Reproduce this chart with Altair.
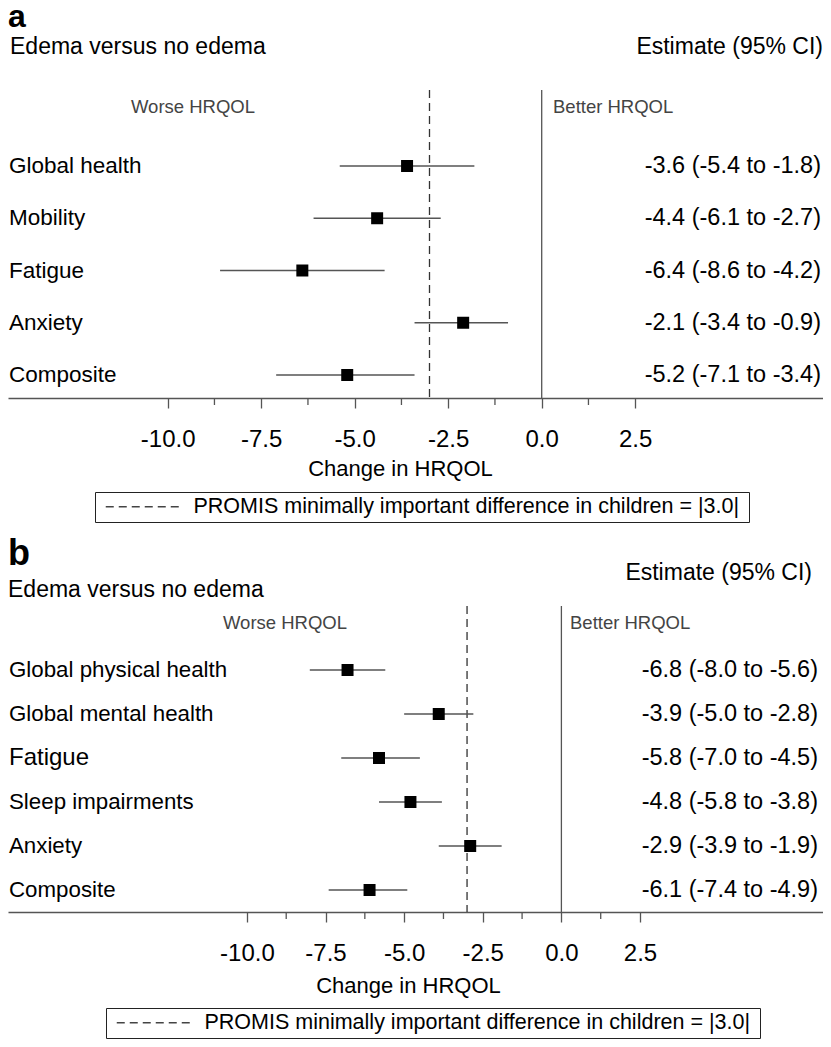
import altair as alt
import pandas as pd

FONT = "Liberation Sans, Arial, Helvetica, sans-serif"

# ---------------- data ----------------
a_outcomes = ["Global health", "Mobility", "Fatigue", "Anxiety", "Composite"]
a_est = [-3.6, -4.4, -6.4, -2.1, -5.2]
a_lo = [-5.4, -6.1, -8.6, -3.4, -7.1]
a_hi = [-1.8, -2.7, -4.2, -0.9, -3.4]
a_text = ["-3.6 (-5.4 to -1.8)", "-4.4 (-6.1 to -2.7)", "-6.4 (-8.6 to -4.2)",
          "-2.1 (-3.4 to -0.9)", "-5.2 (-7.1 to -3.4)"]

b_outcomes = ["Global physical health", "Global mental health", "Fatigue",
              "Sleep impairments", "Anxiety", "Composite"]
b_est = [-6.8, -3.9, -5.8, -4.8, -2.9, -6.1]
b_lo = [-8.0, -5.0, -7.0, -5.8, -3.9, -7.4]
b_hi = [-5.6, -2.8, -4.5, -3.8, -1.9, -4.9]
b_text = ["-6.8 (-8.0  to -5.6)", "-3.9 (-5.0  to -2.8)", "-5.8 (-7.0  to -4.5)",
          "-4.8 (-5.8  to -3.8)", "-2.9 (-3.9  to -1.9)", "-6.1 (-7.4  to -4.9)"]

major_ticks = [-10.0, -7.5, -5.0, -2.5, 0.0, 2.5]
minor_ticks = [-8.75, -6.25, -3.75, -1.25, 1.25]
mid_value = [-3.0]
zero_value = [0.0]
legend_label = ["PROMIS minimally important difference in  children = |3.0|"]
subtitle = "Edema versus no edema"
est_header = "Estimate (95% CI)"
worse_txt = "Worse HRQOL"
better_txt = "Better HRQOL"
x_title = "Change in HRQOL"

W = 815
AXIS_GRAY = "#555555"
LABEL_EXPR = ("datum.value < 0 ? '-' + format(-datum.value, '.1f') "
              ": format(datum.value, '.1f')")


def one(txt):
    return alt.Chart(pd.DataFrame({"t": [txt]}))


def panel(letter, outcomes, est, lo, hi, txt, g):
    H = g["H"]
    n = len(outcomes)
    df = pd.DataFrame({"row": list(range(n)), "outcome": outcomes, "est": est,
                       "lo": lo, "hi": hi, "txt": txt})
    xs = alt.Scale(domain=[-g["zero"] / g["ppu"], (W - g["zero"]) / g["ppu"]],
                   nice=False, zero=False)
    ys = alt.Scale(domain=[-g["row0"] / g["step"], (H - g["row0"]) / g["step"]],
                   nice=False, zero=False, reverse=True)
    xaxis = alt.Axis(values=major_ticks, labelExpr=LABEL_EXPR, grid=False,
                     domainColor=AXIS_GRAY, domainWidth=1.5,
                     tickColor=AXIS_GRAY, tickWidth=1.3, tickSize=10,
                     labelFont=FONT, labelFontSize=24, labelColor="black",
                     labelBaseline="alphabetic", labelPadding=g["lpad"],
                     labelFlush=False, labelOverlap=False,
                     titleFont=FONT, titleFontSize=22, titleFontWeight="normal",
                     titleColor="black", titleX=g["titleX"], titleY=g["titleY"],
                     titleBaseline="alphabetic", titleAlign="center")
    base = alt.Chart(df)
    ci = base.mark_rule(color="#555555", strokeWidth=1.5).encode(
        x=alt.X("lo:Q", scale=xs, axis=xaxis, title=x_title),
        x2="hi:Q",
        y=alt.Y("row:Q", scale=ys, axis=None),
    )
    pts = base.mark_square(size=144, color="black", opacity=1).encode(
        x=alt.X("est:Q", scale=xs), y=alt.Y("row:Q", scale=ys))
    names = base.mark_text(align="left", baseline="middle", font=FONT,
                           color="black").encode(
        x=alt.value(1), y=alt.Y("row:Q", scale=ys), text="outcome:N",
        size=alt.condition(alt.datum.outcome == g["bigName"],
                           alt.value(g["bigFs"]), alt.value(g["fs"])))
    ests = base.mark_text(align="right", baseline="middle", font=FONT,
                          fontSize=g["efs"], color="black").encode(
        x=alt.value(g["estR"]), y=alt.Y("row:Q", scale=ys), text="txt:N")

    minor = alt.Chart(pd.DataFrame({"v": minor_ticks})).mark_rule(
        color=AXIS_GRAY, strokeWidth=1.3).encode(
        x=alt.X("v:Q", scale=xs), y=alt.value(H), y2=alt.value(H + 7))

    zero = alt.Chart(pd.DataFrame({"v": zero_value})).mark_rule(
        color="#555555", strokeWidth=1.3).encode(
        x=alt.X("v:Q", scale=xs), y=alt.value(g["lineTop"]), y2=alt.value(H))
    mid = alt.Chart(pd.DataFrame({"v": mid_value, "lab": legend_label})).mark_rule(
        color="#333333", strokeWidth=1.3).encode(
        x=alt.X("v:Q", scale=xs), y=alt.value(g["lineTop"]), y2=alt.value(H),
        strokeDash=alt.StrokeDash(
            "lab:N", scale=alt.Scale(range=[[8, 5]]),
            legend=alt.Legend(title=None, orient="none", legendX=g["legX"],
                              legendY=g["legY"], strokeColor="#222222", padding=4,
                              labelFont=FONT, labelFontSize=21.5,
                              labelColor="black", labelLimit=0, labelOffset=73,
                              symbolType="M-0.5,0H9", symbolSize=256,
                              symbolStrokeColor="#444444", symbolStrokeWidth=1.3)))

    letter_t = one(letter).mark_text(align="left", baseline="alphabetic", font=FONT,
                                     fontSize=g["letterFs"], fontWeight="bold",
                                     color="black", clip=True).encode(
        x=alt.value(0), y=alt.value(g["letterY"]), text="t:N")
    sub_t = one(subtitle).mark_text(align="left", baseline="middle", font=FONT,
                                    fontSize=23, color="black").encode(
        x=alt.value(g["subX"]), y=alt.value(g["subY"]), text="t:N")
    est_t = one(est_header).mark_text(align="right", baseline="middle", font=FONT,
                                      fontSize=23, color="black").encode(
        x=alt.value(g["estHR"]), y=alt.value(g["estHY"]), text="t:N")
    worse_t = one(worse_txt).mark_text(align="center", baseline="middle", font=FONT,
                                       fontSize=18.5, color="#444444").encode(
        x=alt.value(g["worseX"]), y=alt.value(g["wbY"]), text="t:N")
    better_t = one(better_txt).mark_text(align="left", baseline="middle", font=FONT,
                                         fontSize=18.5, color="#444444").encode(
        x=alt.value(g["betterX"]), y=alt.value(g["wbY"]), text="t:N")

    return alt.layer(mid, zero, minor, ci, pts, names, ests, letter_t, sub_t, est_t,
                     worse_t, better_t).properties(width=W, height=H)


ga = dict(H=390, zero=533.7, ppu=37.4, row0=158, step=52.25, fs=22.5, bigName="",
          bigFs=22.5, efs=23.5, estR=813, lpad=38, titleX=392, titleY=77,
          legX=87, legY=484, lineTop=82, letterFs=32, letterY=19,
          subX=2, subY=39, estHR=815, estHY=39, worseX=185, betterX=545, wbY=99)
gb = dict(H=378, zero=553.4, ppu=31.45, row0=136, step=44, fs=22.3, bigName="Fatigue",
          bigFs=24, efs=23.5, estR=810, lpad=38, titleX=400, titleY=80,
          legX=98, legY=474, lineTop=72, letterFs=36, letterY=31,
          subX=0, subY=56, estHR=804, estHY=39, worseX=277, betterX=562, wbY=89)

pa = panel("a", a_outcomes, a_est, a_lo, a_hi, a_text, ga)
pb = panel("b", b_outcomes, b_est, b_lo, b_hi, b_text, gb)

chart = alt.vconcat(pa, pb, spacing=11).resolve_scale(
    x="independent", y="independent", strokeDash="independent"
).resolve_legend(strokeDash="independent").properties(
    padding=0, background="white"
).configure_view(stroke=None)

chart.save("out.html", embed_options={"renderer": "svg", "actions": False})
